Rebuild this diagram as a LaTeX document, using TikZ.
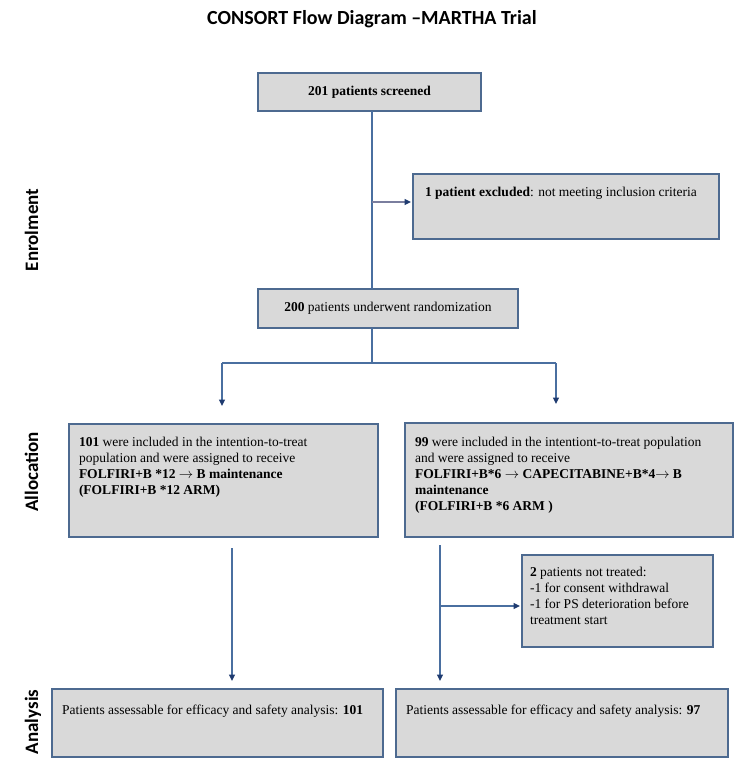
\documentclass[tikz,border=0pt]{standalone}
\usepackage{fontspec}
\setmainfont{Liberation Serif}
\newfontfamily\calibri{Carlito}
\usetikzlibrary{arrows.meta,calc}
\definecolor{boxfill}{HTML}{D9D9D9}
\definecolor{boxline}{HTML}{4D6A90}
\definecolor{connc}{HTML}{4A6FA0}
\definecolor{headc}{HTML}{1F3B70}
\definecolor{exconn}{HTML}{7A7E9E}
\newcommand{\rarr}{\ensuremath{\rightarrow}}
\begin{document}
\begin{tikzpicture}[x=1bp,y=-1bp,
  box/.style={draw=boxline, fill=boxfill, line width=1.4bp, inner sep=0pt, outer sep=0pt, rectangle},
  txt/.style={anchor=north west, inner sep=0pt, outer sep=0pt, align=left, font=\fontsize{13.5bp}{16bp}\selectfont},
  connl/.style={draw=connc, line width=1.3bp},
  arr/.style={connl, -{Triangle[length=6.5bp,width=6bp,color=headc]}},
  lab/.style={rotate=90, anchor=base, font=\calibri\bfseries\fontsize{19bp}{22bp}\selectfont}
]
\useasboundingbox (0,0) rectangle (750,768);

% title
\node[anchor=base, inner sep=0pt, font=\calibri\bfseries\fontsize{20bp}{24bp}\selectfont] (title) at (372,25) {CONSORT Flow Diagram –MARTHA Trial};

% stage labels
\node[lab] (lenr) at (38,230) {Enrolment};
\node[lab] (lall) at (38,472) {Allocation};
\node[lab] (lana) at (38,722) {Analysis};

% boxes
\node[box, minimum width=223bp, minimum height=38bp, font=\fontsize{13.5bp}{16bp}\selectfont] (s) at (369.5,92) {\textbf{201 patients screened}};
\node[box, minimum width=306bp, minimum height=65bp] (e) at (566,206.5) {};
\node[box, minimum width=260bp, minimum height=39bp, font=\fontsize{13.5bp}{16bp}\selectfont] (r) at (388,308.5) {\textbf{200} patients underwent randomization};
\node[box, minimum width=309bp, minimum height=113bp] (a1) at (223.5,480.5) {};
\node[box, minimum width=328bp, minimum height=114bp] (a2) at (569,480) {};
\node[box, minimum width=191bp, minimum height=92bp] (p) at (617.5,601) {};
\node[box, minimum width=331bp, minimum height=68bp] (n1) at (217.5,723) {};
\node[box, minimum width=332bp, minimum height=68bp] (n2) at (562,723) {};

% box texts
\node[txt] (et) at (425,187.5) {\textbf{1 patient excluded}: not meeting inclusion criteria};
\node[txt] (a1t) at (79,437.5) {\textbf{101} were included in the intention-to-treat\\population and were assigned to receive\\\textbf{FOLFIRI+B *12 \rarr\ B maintenance}\\\textbf{(FOLFIRI+B *12 ARM)}};
\node[txt] (a2t) at (415,437.5) {\textbf{99} were included in the intentiont-to-treat population\\and were assigned to receive\\\textbf{FOLFIRI+B*6 \rarr\ CAPECITABINE+B*4\rarr\ B}\\\textbf{maintenance}\\\textbf{(FOLFIRI+B *6 ARM )}};
\node[txt] (pt) at (530,567.5) {\textbf{2} patients not treated:\\-1 for consent withdrawal\\-1 for PS deterioration before\\treatment start};
\node[txt] (n1t) at (62,704.5) {Patients assessable for efficacy and safety analysis: \textbf{101}};
\node[txt] (n2t) at (406,704.5) {Patients assessable for efficacy and safety analysis: \textbf{97}};

% connectors
\coordinate (j1) at (372,202);
\coordinate (j2) at (372,363);
\coordinate (bl) at (222,363);
\coordinate (bR) at (556,363);
\coordinate (dl) at (232,0);
\coordinate (dr) at (440,0);
\coordinate (pj) at (440,606);

\draw[connl] (s.south -| j1) -- (r.north -| j1);
\draw[arr, draw=exconn, shorten >=2bp] (j1) -- (e.west |- j1);
\draw[connl] (r.south -| j2) -- (j2);
\draw[connl] (bl) -- (bR);
\draw[arr, shorten >=18bp] (bl) -- (a1.north -| bl);
\draw[arr, shorten >=19bp] (bR) -- (a2.north -| bR);
\draw[arr, shorten <=11bp, shorten >=8bp] (a1.south -| dl) -- (n1.north -| dl);
\draw[arr, shorten <=8bp, shorten >=8bp] (a2.south -| dr) -- (n2.north -| dr);
\draw[arr, shorten >=2bp] (pj) -- (p.west |- pj);
\end{tikzpicture}
\end{document}
